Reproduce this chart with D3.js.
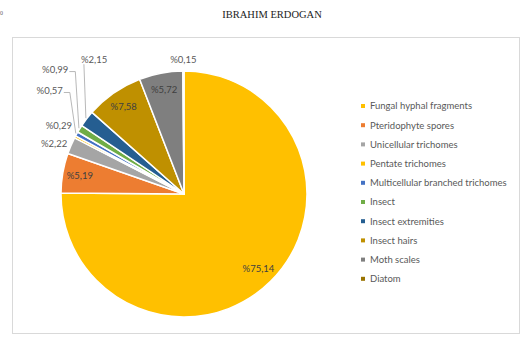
<!DOCTYPE html>
<html><head><meta charset="utf-8">
<script src="https://cdn.jsdelivr.net/npm/d3@7"></script>
<style>html,body{margin:0;padding:0;background:#fff;overflow:hidden}</style>
</head><body><svg id="c" width="522" height="354"></svg>
<script>
const categories = ["Fungal hyphal fragments","Pteridophyte spores","Unicellular trichomes","Pentate trichomes","Multicellular branched trichomes","Insect","Insect extremities","Insect hairs","Moth scales","Diatom"];
const values = [75.14, 5.19, 2.22, 0.29, 0.57, 0.99, 2.15, 7.58, 5.72, 0.15];
const valueLabels = ["%75,14","%5,19","%2,22","%0,29","%0,57","%0,99","%2,15","%7,58","%5,72","%0,15"];
const colors = ["#FFC000","#ED7D31","#A5A5A5","#FFC000","#4472C4","#70AD47","#255E91","#BF9000","#7F7F7F","#997300"];
const title = "IBRAHIM ERDOGAN";

// label layout: inside labels for large slices, outside for small; manual nudges (Excel-like)
const insideIdx = [0,1,7,8];
const outsideNudge = {2:[-1,5],3:[-1,-3],4:[-12,-35],5:[-10,-50],6:[21,-49],9:[0,6]};
const leaderIdx = [4,5,6];

const svg = d3.select("#c");
const cx = 184, cy = 194, R = 123;

svg.append("text").attr("x",272).attr("y",18).attr("text-anchor","middle")
  .attr("font-family","Liberation Serif, serif").attr("font-size",10.5).attr("fill","#222").text(title);
svg.append("text").attr("x",0).attr("y",15).attr("font-family","Liberation Serif, serif")
  .attr("font-size",6).attr("fill","#666").text("0");

svg.append("rect").attr("x",12.5).attr("y",37.5).attr("width",507).attr("height",296)
  .attr("fill","#fff").attr("stroke","#d9d9d9");

const pie = d3.pie().sort(null).value(d=>d)(values);
const arc = d3.arc().innerRadius(0).outerRadius(R);
const g = svg.append("g").attr("transform",`translate(${cx},${cy})`);
g.selectAll("path").data(pie).join("path").attr("d",arc)
  .attr("fill",(d,i)=>colors[i]).attr("stroke","#fff").attr("stroke-width",1.5).attr("stroke-linejoin","round");

const font = "Lato, 'Open Sans', sans-serif";
const inArc = d3.arc().innerRadius(R*0.86).outerRadius(R*0.86);
const outArc = d3.arc().innerRadius(R*1.14).outerRadius(R*1.14);
const edgeArc = d3.arc().innerRadius(R+1).outerRadius(R+1);

pie.forEach((d,i)=>{
  if (insideIdx.includes(i)) {
    const [x,y] = inArc.centroid(d);
    g.append("text").attr("x",x).attr("y",y).attr("dy","0.35em").attr("text-anchor","middle")
      .attr("font-family",font).attr("font-size",9.5).attr("fill","#404040").text(valueLabels[i]);
  } else {
    const [x0,y0] = outArc.centroid(d);
    const n = outsideNudge[i] || [0,0];
    const x = x0+n[0], y = y0+n[1];
    const t = g.append("text").attr("x",x).attr("y",y).attr("dy","0.35em").attr("text-anchor","middle")
      .attr("font-family",font).attr("font-size",9.5).attr("fill","#595959").text(valueLabels[i]);
    if (leaderIdx.includes(i)) {
      const w = t.node().getComputedTextLength();
      const [ex,ey] = edgeArc.centroid(d);
      let pts;
      if (i===6) {
        pts = [[x-w/2+3,y+5],[ex,ey]];
      } else {
        pts = [[x+w/2+1,y+2],[x+w/2+7,y+2],[ex,ey]];
      }
      g.append("path").attr("d",d3.line()(pts)).attr("fill","none")
        .attr("stroke","#a6a6a6").attr("stroke-width",0.8);
    }
  }
});

// legend
const lg = svg.append("g").attr("transform","translate(361,106)");
categories.forEach((c,i)=>{
  const row = lg.append("g").attr("transform",`translate(0,${i*19.2})`);
  row.append("rect").attr("x",0).attr("y",-2).attr("width",4).attr("height",4).attr("fill",colors[i]);
  row.append("text").attr("x",9).attr("y",0).attr("dy","0.35em")
    .attr("font-family",font).attr("font-size",9.5).attr("fill","#595959").text(c);
});
</script></body></html>
